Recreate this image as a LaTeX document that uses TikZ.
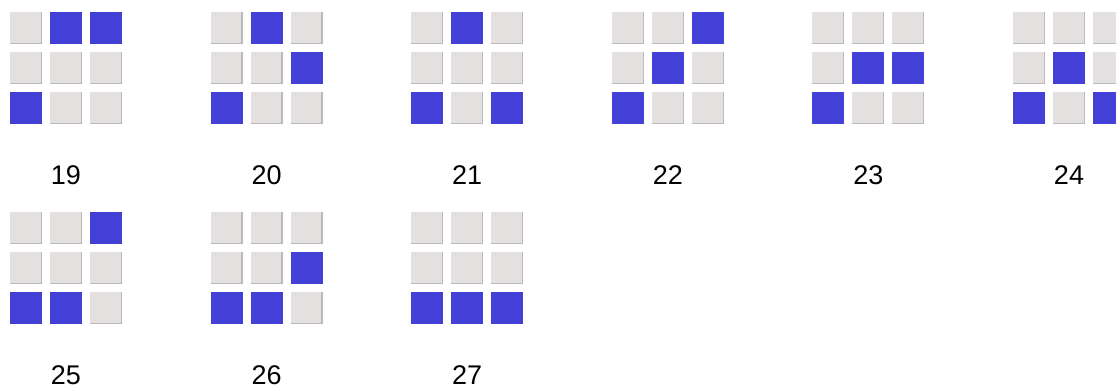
\documentclass[tikz,border=0pt]{standalone}
\usepackage{fontspec}
\setmainfont{Liberation Sans}
\usepackage{tikz}
\usetikzlibrary{positioning}
\definecolor{cblue}{HTML}{4340D8}
\definecolor{cgray}{HTML}{E4E0E0}
\definecolor{cedge}{HTML}{BBB9B9}
\tikzset{
  cellbox/.style={fill=cgray, inner sep=0pt, outer sep=0pt, minimum size=32pt},
  celledge/.style={draw=cedge, line width=1.3pt},
  numlabel/.style={inner sep=0pt, text height=19.3pt, text depth=0pt,
    font=\fontsize{27}{30}\selectfont}
}
\begin{document}
\begin{tikzpicture}[x=1pt, y=-1pt]
  \useasboundingbox (0,0) rectangle (1116,387);
  \foreach \num/\k/\r/\blues in {19/0/0/{2/1,3/1,1/3}, 20/1/0/{2/1,3/2,1/3},
      21/2/0/{2/1,1/3,3/3}, 22/3/0/{3/1,2/2,1/3}, 23/4/0/{2/2,3/2,1/3},
      24/5/0/{2/2,1/3,3/3}, 25/0/1/{3/1,1/3,2/3}, 26/1/1/{3/2,1/3,2/3},
      27/2/1/{1/3,2/3,3/3}} {
    % 3x3 grid of grey cells
    \foreach \i in {1,2,3} {
      \foreach \j in {1,2,3} {
        \node[cellbox] (c\num-\i-\j)
          at ({26+200.6*\k+40*(\i-1)}, {28.3+200*\r+40*(\j-1)}) {};
        \draw[celledge] ([shift={(0,-0.65)}]c\num-\i-\j.south west)
          -- ([shift={(-0.65,-0.65)}]c\num-\i-\j.south east)
          -- ([shift={(-0.65,0)}]c\num-\i-\j.north east);
      }
    }
    % filled cells
    \foreach \i/\j in \blues {
      \fill[cblue] (c\num-\i-\j.south west) rectangle (c\num-\i-\j.north east);
    }
    \node[numlabel, below=41pt of c\num-2-3] (n\num) {\num};
  }
\end{tikzpicture}
\end{document}
